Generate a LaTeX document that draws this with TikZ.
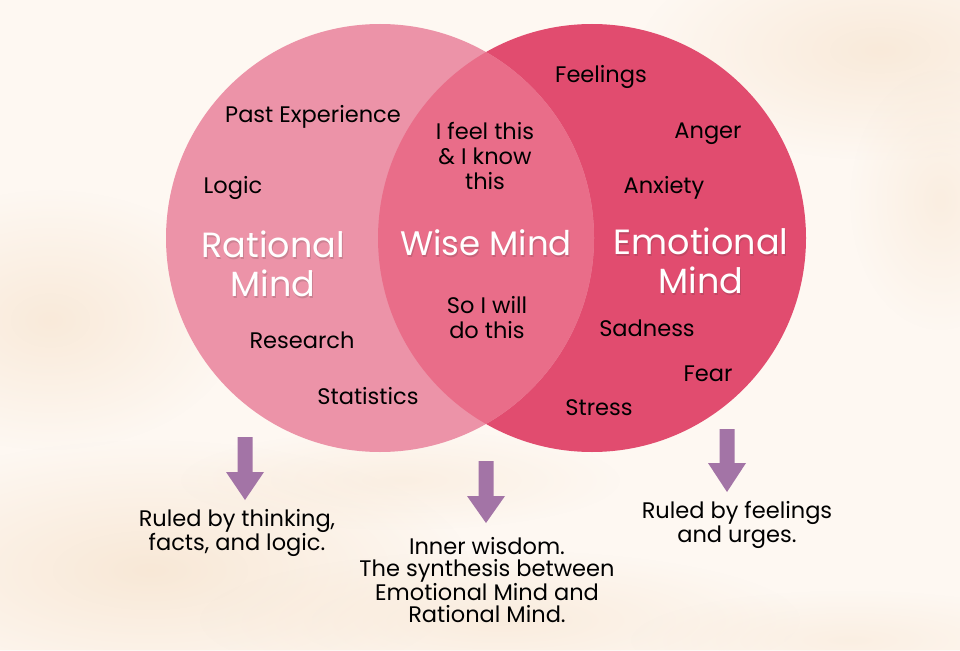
\documentclass[tikz,border=0pt]{standalone}
\usepackage{fontspec}
\setmainfont{Poppins}
\usetikzlibrary{fadings}
\tikzfading[name=fuzzy, inner color=transparent!10, outer color=transparent!100]
\definecolor{bg}{HTML}{FEF8F2}
\definecolor{peach}{HTML}{F6E2CC}
\definecolor{leftc}{HTML}{EC93A8}
\definecolor{rightc}{HTML}{E14C6F}
\definecolor{lensc}{HTML}{E96D89}
\definecolor{arrowc}{HTML}{A374A6}
\tikzset{
  lbl/.style={font=\fontsize{22.5}{25}\selectfont, align=center, text=black, inner sep=0pt},
  note/.style={font=\fontsize{22.5}{22.5}\selectfont, align=center, text=black, inner sep=0pt},
  ttl/.style={font=\fontsize{35}{39}\selectfont, align=center, text=white, inner sep=0pt},
  shd/.style={ttl, text=black!80, opacity=0.18},
  blob/.style={fill=peach, path fading=fuzzy},
  pics/dnarrow/.style args={#1/#2}{code={
    \fill[arrowc] (-7.5,0) -- (7.5,0) -- (7.5,#1) -- (19,#1) -- (0,#2) -- (-19,#1) -- (-7.5,#1) -- cycle;}}
}
\begin{document}
\begin{tikzpicture}[x=1pt,y=-1pt]
\useasboundingbox (0,0) rectangle (960,650);
\fill[bg] (0,0) rectangle (960,650);
% background texture
\fill[blob, opacity=0.7] (880,50) ellipse (240pt and 110pt);
\fill[blob, opacity=0.5] (940,200) ellipse (90pt and 130pt);
\fill[blob, opacity=0.7] (50,320) ellipse (190pt and 130pt);
\fill[blob, opacity=0.8] (150,570) ellipse (320pt and 130pt);
\fill[blob, opacity=0.6] (500,620) ellipse (300pt and 70pt);
\fill[blob, opacity=0.45] (400,480) ellipse (220pt and 50pt);
\fill[blob, opacity=0.45] (850,640) ellipse (220pt and 50pt);
% circles
\fill[rightc] (592,238) circle (214pt);
\fill[leftc] (380,238) circle (214pt);
\begin{scope}
  \clip (380,238) circle (214pt);
  \fill[lensc] (592,238) circle (214pt);
\end{scope}
% rational
\node[lbl] (past) at (313,117) {Past Experience};
\node[lbl] (logic) at (233,188) {Logic};
\node[lbl] (research) at (302,340) {Research};
\node[lbl] (stats) at (368,396) {Statistics};
% wise
\node[lbl] (feel) at (485,156) {I feel this\\\& I know\\this};
\node[lbl] (will) at (487,318) {So I will\\do this};
% emotional
\node[lbl] (feelings) at (601,77) {Feelings};
\node[lbl] (anger) at (708,134) {Anger};
\node[lbl] (anxiety) at (664,188) {Anxiety};
\node[lbl] (sadness) at (647,328) {Sadness};
\node[lbl] (fear) at (708,374) {Fear};
\node[lbl] (stress) at (599,408) {Stress};
% titles with soft shadow
\node[shd] (rshadow) at (274,266) {Rational\\Mind};
\node[shd, font=\fontsize{34}{39}\selectfont] (wshadow) at (487,245) {Wise Mind};
\node[shd] (eshadow) at (702,263) {Emotional\\Mind};
\node[ttl] (rational) at (273,264) {Rational\\Mind};
\node[ttl, font=\fontsize{34}{39}\selectfont] (wise) at (486,243) {Wise Mind};
\node[ttl] (emotional) at (701,261) {Emotional\\Mind};
% arrows
\pic at (245,437) {dnarrow={35/63}};
\pic at (486,461) {dnarrow={35/62}};
\pic at (727,429) {dnarrow={34/63}};
% notes
\node[note] (rnote) at (237,533) {Ruled by thinking,\\facts, and logic.};
\node[note] (wnote) at (487,580) {Inner wisdom.\\The synthesis between\\Emotional Mind and\\Rational Mind.};
\node[note] (enote) at (737,525) {Ruled by feelings\\and urges.};
\end{tikzpicture}
\end{document}
